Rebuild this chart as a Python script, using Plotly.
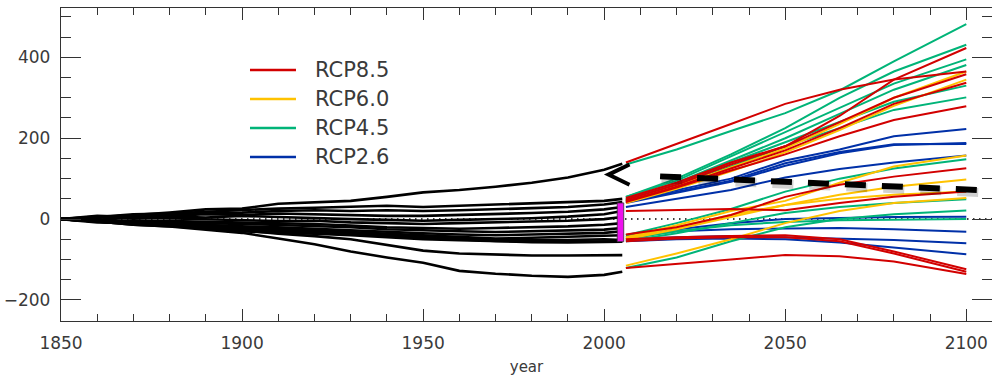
import plotly.graph_objects as go

# ---------------- data ----------------
hist_years = [1850, 1860, 1870, 1880, 1890, 1900, 1910, 1920, 1930, 1940,
              1950, 1960, 1970, 1980, 1990, 2000, 2005]
hist_runs = [
    [0, 4, 10, 16, 24, 26, 38, 42, 45, 55, 66, 72, 80, 90, 103, 122, 137],
    [0, 5, 12, 14, 18, 22, 26, 28, 30, 33, 30, 33, 35, 38, 41, 45, 50],
    [0, 6, 8, 12, 15, 16, 20, 22, 20, 22, 20, 22, 24, 27, 30, 36, 42],
    [0, 3, 10, 8, 12, 10, 14, 12, 10, 8, 8, 10, 12, 15, 18, 24, 30],
    [0, 8, 5, 6, 4, 8, 5, 2, 0, -2, -4, -2, 0, 2, 6, 12, 20],
    [0, -2, 4, 2, 0, -2, -5, -4, -8, -10, -12, -10, -8, -6, -4, 0, 5],
    [0, -6, -3, -5, -6, -8, -10, -12, -16, -20, -22, -24, -22, -20, -18, -14, -10],
    [0, -4, -8, -5, -10, -12, -15, -18, -20, -25, -28, -30, -32, -30, -28, -26, -22],
    [0, -8, -10, -12, -15, -18, -20, -24, -28, -32, -35, -38, -40, -38, -36, -34, -30],
    [0, -5, -12, -10, -14, -20, -24, -28, -32, -36, -40, -44, -48, -46, -44, -42, -40],
    [0, -3, -12, -15, -18, -22, -26, -30, -34, -38, -42, -46, -50, -52, -52, -50, -52],
    [0, -6, -14, -18, -22, -26, -30, -34, -38, -42, -46, -50, -54, -56, -56, -55, -55],
    [0, -4, -10, -16, -24, -30, -34, -36, -40, -45, -50, -52, -55, -57, -58, -57, -56],
    [0, -5, -10, -16, -22, -28, -36, -42, -50, -64, -78, -85, -88, -90, -90, -89, -89],
    [0, -6, -14, -18, -26, -34, -48, -62, -80, -95, -108, -128, -135, -140, -143, -138, -130],
]

proj_years = [2006, 2020, 2035, 2050, 2065, 2080, 2100]
rcp26_runs = [
    [45, 72, 100, 145, 172, 205, 223],
    [42, 68, 95, 138, 166, 185, 186],
    [40, 66, 92, 132, 163, 183, 188],
    [30, 50, 72, 103, 124, 140, 157],
    [-40, -25, -10, 0, 3, 5, 6],
    [-45, -30, -25, -23, -22, -25, -31],
    [-50, -45, -42, -45, -48, -52, -60],
    [-55, -50, -48, -50, -58, -70, -87],
]
rcp45_runs = [
    [135, 172, 218, 262, 318, 390, 482],
    [55, 100, 160, 225, 300, 365, 431],
    [55, 95, 155, 215, 275, 335, 395],
    [50, 90, 145, 200, 260, 320, 381],
    [48, 85, 140, 190, 240, 290, 330],
    [46, 82, 130, 180, 225, 270, 301],
    [-40, -10, 25, 68, 100, 125, 148],
    [-55, -35, -10, 15, 30, 40, 49],
    [-121, -95, -55, -20, 0, 12, 21],
    [-50, -30, -15, -7, -3, -2, 0],
]
rcp60_runs = [
    [45, 82, 128, 175, 235, 300, 365],
    [40, 75, 118, 165, 220, 280, 345],
    [-45, -15, 20, 45, 90, 130, 157],
    [-50, -25, 5, 35, 60, 80, 98],
    [-48, -20, 10, 35, 50, 60, 68],
    [-115, -85, -50, -10, 20, 40, 52],
]
rcp85_runs = [
    [140, 185, 235, 285, 320, 345, 365],
    [52, 90, 140, 180, 255, 345, 423],
    [48, 85, 135, 180, 240, 300, 358],
    [44, 80, 125, 170, 225, 285, 337],
    [42, 78, 120, 160, 205, 245, 279],
    [-38, -20, 10, 55, 85, 105, 126],
    [20, 22, 25, 22, 40, 55, 68],
    [-50, -45, -42, -40, -50, -80, -124],
    [-55, -48, -45, -45, -55, -85, -130],
    [-121, -110, -100, -89, -92, -105, -136],
]

scenario_names = ["RCP8.5", "RCP6.0", "RCP4.5", "RCP2.6"]
scenario_colors = ["#d20000", "#ffc200", "#00b478", "#0030a8"]

# magenta bar at end of historical period (value range)
bar_year = 2005
bar_low, bar_high = -56, 40
# dashed arrow: from (x0, y0) to tip (x1, y1)
arrow_start = (2102.9, 72)
arrow_dash_end = (2014.5, 106)
arrow_tip = (2001.2, 110)

# ---------------- figure ----------------
fig = go.Figure()

# zero reference dotted line
fig.add_shape(type="line", xref="x", yref="y", x0=1850, x1=2107.1, y0=0, y1=0,
              line=dict(color="black", width=1.5, dash="1.5px,4.5px"), layer="below")

for run in hist_runs:
    fig.add_trace(go.Scatter(x=hist_years, y=run, mode="lines",
                             line=dict(color="black", width=2.6),
                             showlegend=False, hoverinfo="skip"))

groups = [(rcp26_runs, 3), (rcp45_runs, 2), (rcp60_runs, 1), (rcp85_runs, 0)]
for runs, idx in groups:
    for run in runs:
        fig.add_trace(go.Scatter(x=proj_years, y=run, mode="lines",
                                 line=dict(color=scenario_colors[idx], width=2),
                                 name=scenario_names[idx], showlegend=False,
                                 hoverinfo="skip"))

# magenta bar
fig.add_shape(type="rect", xref="x", yref="y", x0=bar_year - 1.4, x1=bar_year + 0.4,
              y0=bar_low, y1=bar_high, fillcolor="#ee11ee",
              line=dict(color="#333", width=0.8))

# dashed arrow shadow + arrow
fig.add_shape(type="line", xref="x", yref="y",
              x0=arrow_start[0] + 0.4, y0=arrow_start[1] - 6,
              x1=arrow_dash_end[0] + 0.4, y1=arrow_dash_end[1] - 6,
              line=dict(color="rgba(0,0,0,0.18)", width=9, dash="21px,16px"))
fig.add_shape(type="line", xref="x", yref="y",
              x0=arrow_start[0], y0=arrow_start[1],
              x1=arrow_dash_end[0], y1=arrow_dash_end[1],
              line=dict(color="black", width=6, dash="21px,16px"))
fig.add_shape(type="path", xref="x", yref="y",
              path=f"M {arrow_tip[0]+5.8},{arrow_tip[1]+25} L {arrow_tip[0]},{arrow_tip[1]} L {arrow_tip[0]+5.8},{arrow_tip[1]-25}",
              line=dict(color="black", width=4))

# legend (manual, to match look)
leg_y = [0.8019, 0.7093, 0.6166, 0.524]
for i, name in enumerate(scenario_names):
    fig.add_shape(type="line", xref="paper", yref="paper", x0=0.203, x1=0.2524,
                  y0=leg_y[i], y1=leg_y[i],
                  line=dict(color=scenario_colors[i], width=2.6))
    fig.add_annotation(xref="paper", yref="paper", x=0.2707, y=leg_y[i],
                       text=name, showarrow=False, xanchor="left", yanchor="middle",
                       font=dict(family="DejaVu Sans", size=21, color="#3a3a3a"))

axis_common = dict(showline=True, linecolor="#333", linewidth=1.4, mirror="ticks",
                   ticks="inside", tickcolor="#333", tickwidth=1.3,
                   showgrid=False, zeroline=False,
                   tickfont=dict(family="DejaVu Sans", size=17, color="#3a3a3a"))

fig.update_xaxes(range=[1850, 2107.1], tickmode="linear", tick0=1850, dtick=50,
                 ticklen=12, ticklabelstandoff=6,
                 minor=dict(ticks="inside", dtick=10, tick0=1850, ticklen=7,
                            tickcolor="#333", tickwidth=1.3),
                 title=dict(text="year", standoff=9,
                            font=dict(family="DejaVu Sans", size=15, color="#3a3a3a")),
                 **axis_common)
fig.update_yaxes(range=[-252, 522], tickmode="linear", tick0=0, dtick=200,
                 ticklen=20, ticklabelstandoff=6,
                 minor=dict(ticks="inside", dtick=50, tick0=0, ticklen=10,
                            tickcolor="#333", tickwidth=1.3),
                 **axis_common)

fig.update_layout(width=992, height=377, margin=dict(l=61, r=0, t=8, b=56),
                  plot_bgcolor="white", paper_bgcolor="white", showlegend=False)

fig.write_html("out.html")
